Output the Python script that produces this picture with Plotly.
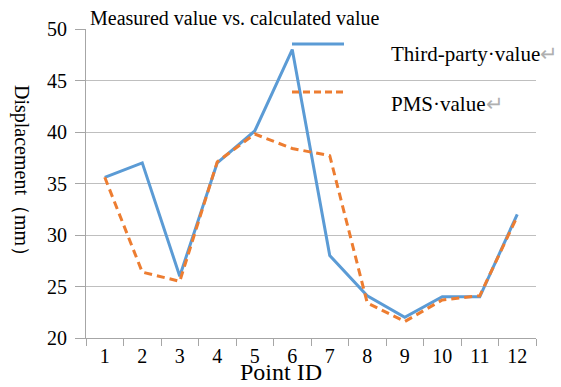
import plotly.graph_objects as go

point_ids = [str(i) for i in range(1, 13)]
third_party = [35.6, 37.0, 26.0, 37.0, 40.1, 48.0, 28.0, 24.1, 22.0, 24.0, 24.0, 32.0]
pms_values = [35.6, 26.4, 25.5, 37.1, 39.8, 38.4, 37.7, 23.4, 21.6, 23.7, 24.1, 31.8]
y_ticks = [20, 25, 30, 35, 40, 45, 50]

title_text = "Measured value vs. calculated value"
y_title = "Displacement（mm）"
x_title = "Point ID"
legend_names = ["Third-party·value", "PMS·value"]

BLUE = "#5B9BD5"
ORANGE = "#ED7D31"
FONT = "Liberation Serif, Times New Roman, serif"

L, R, T, B = 86, 25, 29, 49
W, H = 561, 387
PW, PH = W - L - R, H - T - B


def px(x):
    return (x - L) / PW


def py(y):
    return (H - B - y) / PH


fig = go.Figure()
fig.add_trace(go.Scatter(x=point_ids, y=third_party, mode="lines",
                         line=dict(color=BLUE, width=3), name=legend_names[0]))
fig.add_trace(go.Scatter(x=point_ids, y=pms_values, mode="lines",
                         line=dict(color=ORANGE, width=3, dash="8px,5px"), name=legend_names[1]))

fig.update_layout(
    width=W, height=H,
    margin=dict(l=L, r=R, t=T, b=B),
    paper_bgcolor="white", plot_bgcolor="white",
    showlegend=False,
    font=dict(family=FONT, size=20, color="black"),
    xaxis=dict(type="category", range=[-0.5, 11.5], tickson="boundaries",
               ticks="outside", ticklen=7, tickcolor="#a6a6a6", tickwidth=1,
               showline=True, linecolor="#a6a6a6", linewidth=1,
               showgrid=False, tickfont=dict(size=20), fixedrange=True),
    yaxis=dict(range=[20, 50], tickvals=y_ticks, ticks="outside", ticklen=10,
               tickcolor="#a6a6a6", showline=True, linecolor="#a6a6a6",
               showgrid=True, gridcolor="#bfbfbf", gridwidth=1,
               zeroline=False, tickfont=dict(size=20), ticklabelstandoff=4),
)

# Title
fig.add_annotation(text=title_text, xref="paper", yref="paper", x=px(88), y=py(18),
                   xanchor="left", yanchor="middle", showarrow=False,
                   font=dict(size=20, family=FONT))
# Y title (rotated, reading top to bottom)
fig.add_annotation(text=y_title, xref="paper", yref="paper", x=px(22), y=py(175),
                   xanchor="center", yanchor="middle", textangle=90, showarrow=False,
                   font=dict(size=20, family=FONT))
# X title
fig.add_annotation(text=x_title, xref="paper", yref="paper", x=px(281), y=py(387),
                   xanchor="center", yanchor="bottom", showarrow=False,
                   font=dict(size=24, family=FONT))

# Manual legend
leg_items = [(legend_names[0], BLUE, "solid", 44, 54),
             (legend_names[1], ORANGE, "dash", 92, 104)]
for name, col, dash, ly, ty in leg_items:
    fig.add_shape(type="line", xref="paper", yref="paper",
                  x0=px(292), x1=px(344), y0=py(ly), y1=py(ly),
                  line=dict(color=col, width=3, dash="7px,4px" if dash == "dash" else "solid"))
    fig.add_annotation(text=name + "<span style='color:#b0b0b0'>↵</span>",
                       xref="paper", yref="paper", x=px(389), y=py(ty),
                       xanchor="left", yanchor="middle", showarrow=False,
                       font=dict(size=21, family=FONT))

fig.write_html("out.html")
